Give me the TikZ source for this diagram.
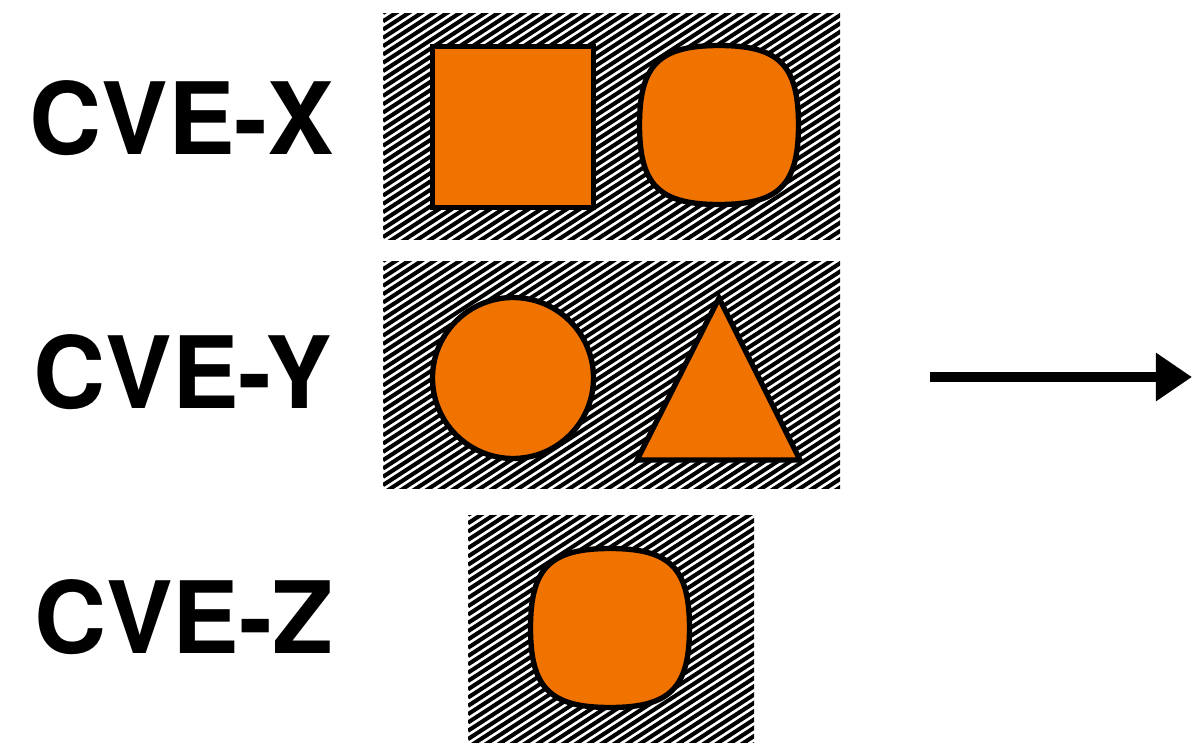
\documentclass[tikz,border=0pt]{standalone}
\usepackage{fontspec}
\setsansfont{TeX Gyre Heros}
\usepackage{xcolor}
\usepackage{tikz}
\usetikzlibrary{arrows.meta}
\definecolor{cveOrange}{HTML}{F07300}
\definecolor{cveInk}{HTML}{000000}
\tikzset{
  cve diagram/.style={x=0.025cm, y=-0.025cm},
  cve stripe/.style={draw=cveInk, line width=2.9pt},
  cve shape/.style={draw=cveInk, fill=cveOrange, line width=3.8pt},
  cve label/.style={font=\sffamily\bfseries\fontsize{71}{82}\selectfont,
    text=cveInk, inner sep=0pt},
  cve arrow/.style={-{Triangle[length=0.9cm,width=1.15cm]}, draw=cveInk,
    line width=7pt},
  pics/cve squircle/.style={code={
    \draw[cve shape] (0,-79.5) .. controls (60,-79.5) and (79.5,-60) .. (79.5,0)
      .. controls (79.5,60) and (60,79.5) .. (0,79.5)
      .. controls (-60,79.5) and (-79.5,60) .. (-79.5,0)
      .. controls (-79.5,-60) and (-60,-79.5) .. cycle;
  }}
}
\begin{document}
\begin{tikzpicture}[cve diagram]
\useasboundingbox (0,0) rectangle (1193,744);
% hatched groups
\foreach \xa/\ya/\xb/\yb in {383/13/840/239, 383/261/840/488, 468/515/754/742}{
  \begin{scope}
    \clip (\xa,\ya) rectangle (\xb,\yb);
    \foreach \k in {0,...,66}
      \draw[cve stripe] (\xa,\ya+\k*8.3) -- ++(470,-305);
  \end{scope}
}
% labels
\node[cve label] (cveX) at (182,118) {CVE-X};
\node[cve label] (cveY) at (183,372) {CVE-Y};
\node[cve label] (cveZ) at (184,617) {CVE-Z};
% CVE-X
\draw[cve shape] (432.5,46.5) rectangle (593.5,207.5);
\pic at (719,125) {cve squircle};
% CVE-Y
\draw[cve shape] (513,378) circle (80.5);
\draw[cve shape] (719,298) -- (637,460) -- (800,460) -- cycle;
% CVE-Z
\pic at (610,628) {cve squircle};
% arrow
\coordinate (arrowStart) at (930,377);
\coordinate (arrowEnd) at (1192,377);
\draw[cve arrow] (arrowStart) -- (arrowEnd);
\end{tikzpicture}
\end{document}
